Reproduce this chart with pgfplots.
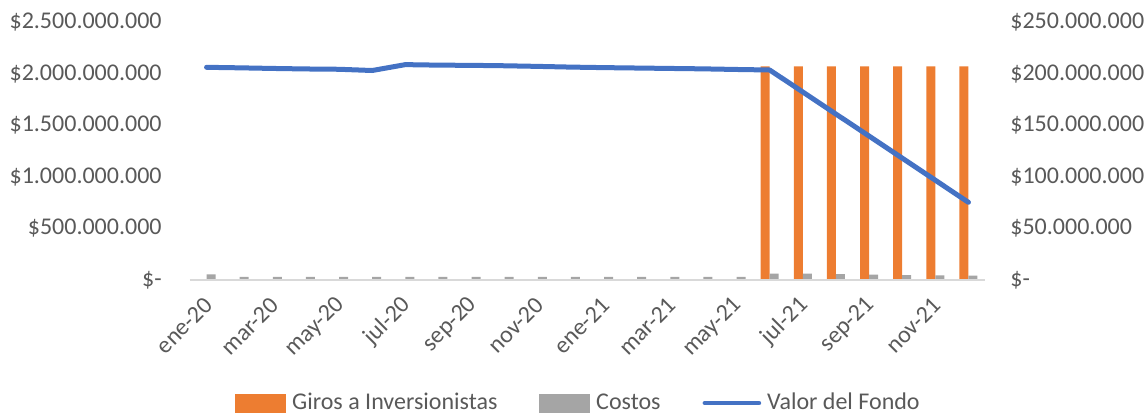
\documentclass[border=0pt]{standalone}
\usepackage{fontspec}
\setmainfont{Carlito}
\usepackage{pgfplots}
\pgfplotsset{compat=1.18}
\usepackage{pgfplotstable}
\definecolor{cOrange}{HTML}{ED7D31}
\definecolor{cGray}{HTML}{A5A5A5}
\definecolor{cBlue}{HTML}{4472C4}
\definecolor{txtgray}{HTML}{595959}
\definecolor{axgray}{HTML}{D9D9D9}

% values in millions of pesos
\pgfplotstableread{
x valor giros costos
0 2061 0 5.5
1 2056 0 3.0
2 2050 0 3.0
3 2045 0 3.0
4 2042 0 3.0
5 2030 0 3.0
6 2087 0 3.0
7 2082 0 3.0
8 2080 0 3.0
9 2076 0 3.0
10 2070 0 3.0
11 2063 0 3.0
12 2058 0 3.0
13 2054 0 3.0
14 2050 0 3.0
15 2046 0 3.0
16 2040 0 3.0
17 2035 207 6.3
18 1822 207 6.3
19 1608 207 5.7
20 1395 207 5.2
21 1181 207 4.8
22 967 207 4.6
23 753 207 4.2
}\datatable

\begin{document}
\begin{tikzpicture}
\pgfplotsset{
  common/.style={
    width=397.5pt, height=129pt, scale only axis,
    xmin=-0.5, xmax=23.5, ymin=0,
    tick label style={font=\fontsize{12}{14}\selectfont, text=txtgray},
  }
}
% ---- bars on the secondary (right) axis
\begin{axis}[common,
  ymax=250,
  hide x axis,
  axis y line*=right,
  y axis line style={draw=none},
  ytick style={draw=none},
  ytick={0,50,100,150,200,250},
  yticklabels={\$-,\$50.000.000,\$100.000.000,\$150.000.000,\$200.000.000,\$250.000.000},
  yticklabel style={anchor=west, inner sep=0pt, xshift=12.5pt},
  ybar, bar width=4.5pt,
]
\addplot[fill=cOrange, draw=none, bar shift=-2.25pt] table[x=x, y=giros] {\datatable};
\addplot[fill=cGray, draw=none, bar shift=2.25pt] table[x=x, y=costos] {\datatable};
\end{axis}
% ---- line on the primary (left) axis
\begin{axis}[common,
  ymax=2500,
  axis x line*=bottom,
  axis y line*=left,
  x axis line style={draw=axgray, line width=0.8pt},
  y axis line style={draw=none},
  ytick style={draw=none},
  ytick={0,500,1000,1500,2000,2500},
  yticklabels={\$-,\$500.000.000,\$1.000.000.000,\$1.500.000.000,\$2.000.000.000,\$2.500.000.000},
  yticklabel style={anchor=east, inner sep=0pt, xshift=-14pt},
  xtick={0,2,...,22},
  xticklabels={ene-20,mar-20,may-20,jul-20,sep-20,nov-20,ene-21,mar-21,may-21,jul-21,sep-21,nov-21},
  xtick style={draw=none},
  xticklabel style={rotate=45, anchor=east, inner sep=1pt, xshift=-5.76pt, yshift=-8.24pt},
  extra x ticks={-0.5,1.5,...,23.5},
  extra x tick labels={},
  extra x tick style={tick align=outside, major tick length=4pt, tick style={draw=axgray, line width=0.8pt}},
  legend style={at={(0.49,-0.477)}, anchor=center, draw=none, fill=none,
    legend columns=-1, font=\fontsize{12}{14}\selectfont, text=txtgray,
    /tikz/every even column/.append style={column sep=19pt},
    /tikz/every odd column/.append style={column sep=1pt},
  },
]
\addlegendimage{legend image code/.code={\fill[cOrange] (0pt,-4.5pt) rectangle (25pt,4.5pt);}}
\addlegendentry{Giros a Inversionistas}
\addlegendimage{legend image code/.code={\fill[cGray] (0pt,-4.5pt) rectangle (25pt,4.5pt);}}
\addlegendentry{Costos}
\addplot[cBlue, line width=2.5pt, line cap=round, line join=round, mark=none,
  legend image code/.code={\draw[cBlue, line width=2.3pt, line cap=round] (0pt,0pt) -- (27pt,0pt);}]
  table[x=x, y=valor] {\datatable};
\addlegendentry{Valor del Fondo}
\end{axis}
\pgfresetboundingbox
\path (-95pt,-69.5pt) rectangle (479pt,140pt);
\end{tikzpicture}
\end{document}
